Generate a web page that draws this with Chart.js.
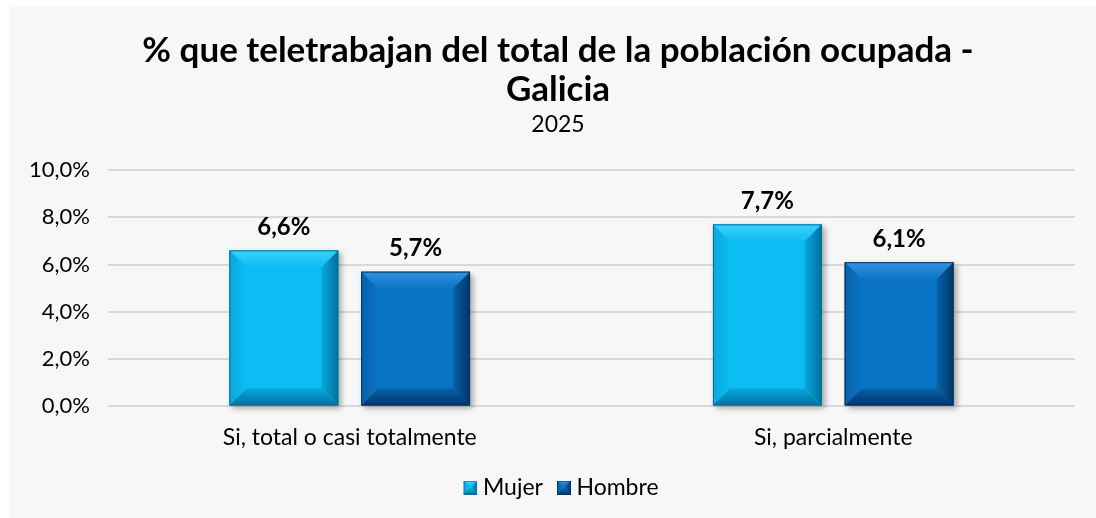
<!DOCTYPE html>
<html>
<head>
<meta charset="utf-8">
<script src="https://cdn.jsdelivr.net/npm/chart.js@4.4.1/dist/chart.umd.min.js"></script>
<style>
  html, body { margin: 0; padding: 0; background: #ffffff; }
  #wrap { position: absolute; left: 10px; top: 7px; width: 1086px; height: 511px; background: #f7f7f7; }
</style>
</head>
<body>
<div id="wrap"><canvas id="chart"></canvas></div>
<script>
const categories = ['Si, total o casi totalmente', 'Si, parcialmente'];
const mujer = [6.6, 7.7];
const hombre = [5.7, 6.1];
const yTicks = [0, 2, 4, 6, 8, 10];

const FONT = 'Lato, "Open Sans", sans-serif';

// face, light edge, mid edge, dark edge
const palette = {
  Mujer: ['#0bbdf3', '#3fd0ff', '#0aa8dc', '#00719c'],
  Hombre: ['#0a74c4', '#3592de', '#0862aa', '#003566']
};

const fmt = v => v.toFixed(1).replace('.', ',') + '%';

function poly(ctx, pts, fill) {
  ctx.beginPath();
  ctx.moveTo(pts[0][0], pts[0][1]);
  for (let i = 1; i < pts.length; i++) ctx.lineTo(pts[i][0], pts[i][1]);
  ctx.closePath();
  ctx.fillStyle = fill;
  ctx.fill();
}

function grad(ctx, x0, y0, x1, y1, c0, c1) {
  const g = ctx.createLinearGradient(x0, y0, x1, y1);
  g.addColorStop(0, c0);
  g.addColorStop(1, c1);
  return g;
}

// soft bevelled face: four edge strips shaded towards the outside
function bevelRect(ctx, l, t, r, b, cols, bev) {
  bev = Math.min(bev, (r - l) / 2, (b - t) / 2);
  const [face, light, mid, dark] = cols;
  poly(ctx, [[l, t], [r, t], [r - bev, t + bev], [l + bev, t + bev]], grad(ctx, 0, t, 0, t + bev, light, face));
  poly(ctx, [[l, t], [l + bev, t + bev], [l + bev, b - bev], [l, b]], grad(ctx, l, 0, l + bev, 0, mid, face));
  poly(ctx, [[r, t], [r, b], [r - bev, b - bev], [r - bev, t + bev]], grad(ctx, r - bev, 0, r, 0, mid, dark));
  poly(ctx, [[l, b], [l + bev, b - bev], [r - bev, b - bev], [r, b]], grad(ctx, 0, b - bev, 0, b, mid, dark));
  ctx.strokeStyle = dark;
  ctx.lineWidth = 1;
  ctx.strokeRect(l + 0.5, t + 0.5, r - l - 1, b - t - 1);
}

// legend marker: small bevelled square on the right side of a wider canvas
function legendIcon(cols) {
  const c = document.createElement('canvas');
  c.width = 26; c.height = 14;
  const ctx = c.getContext('2d');
  ctx.fillStyle = cols[0];
  ctx.fillRect(12, 0, 14, 14);
  bevelRect(ctx, 12, 0, 26, 14, cols, 6);
  return c;
}

const bevelBars = {
  id: 'bevelBars',
  beforeDatasetsDraw(chart) {
    const ctx = chart.ctx;
    chart.data.datasets.forEach((ds, i) => {
      chart.getDatasetMeta(i).data.forEach(bar => {
        const p = bar.getProps(['x', 'y', 'base', 'width'], true);
        ctx.save();
        ctx.shadowColor = 'rgba(0,0,0,0.35)';
        ctx.shadowBlur = 6;
        ctx.shadowOffsetX = 3;
        ctx.shadowOffsetY = 3;
        ctx.fillStyle = '#888';
        ctx.fillRect(p.x - p.width / 2, p.y, p.width, p.base - p.y);
        ctx.restore();
      });
    });
  },
  afterDatasetsDraw(chart) {
    const ctx = chart.ctx;
    chart.data.datasets.forEach((ds, i) => {
      const cols = palette[ds.label];
      chart.getDatasetMeta(i).data.forEach((bar, j) => {
        const p = bar.getProps(['x', 'y', 'base', 'width'], true);
        const l = p.x - p.width / 2, r = p.x + p.width / 2;
        ctx.save();
        bevelRect(ctx, l, p.y, r, p.base, cols, 17);
        ctx.fillStyle = '#000';
        ctx.font = 'bold 24px ' + FONT;
        ctx.textAlign = 'center';
        ctx.textBaseline = 'bottom';
        ctx.fillText(fmt(ds.data[j]), p.x, p.y - 11);
        ctx.restore();
      });
    });
  }
};

new Chart(document.getElementById('chart'), {
  type: 'bar',
  data: {
    labels: categories,
    datasets: [
      { label: 'Mujer', data: mujer, backgroundColor: palette.Mujer[0] },
      { label: 'Hombre', data: hombre, backgroundColor: palette.Hombre[0] }
    ]
  },
  options: {
    responsive: true,
    maintainAspectRatio: false,
    animation: false,
    categoryPercentage: 0.545,
    barPercentage: 0.826,
    layout: { padding: { left: 12, right: 2, top: 8, bottom: 9 } },
    plugins: {
      title: {
        display: true,
        text: ['% que teletrabajan del total de la población ocupada -', 'Galicia'],
        color: '#000',
        font: { family: FONT, size: 35, weight: 'bold', lineHeight: 1.12 },
        padding: { top: 16, bottom: 0 }
      },
      subtitle: {
        display: true,
        text: '2025',
        color: '#000',
        font: { family: FONT, size: 23 },
        padding: { top: 1, bottom: 32 }
      },
      legend: {
        position: 'bottom',
        labels: {
          color: '#000',
          font: { family: FONT, size: 23 },
          usePointStyle: true,
          boxWidth: 14,
          padding: 8,
          generateLabels: chart => chart.data.datasets.map((ds, i) => ({
            text: ds.label,
            pointStyle: legendIcon(palette[ds.label]),
            fillStyle: ds.backgroundColor,
            strokeStyle: ds.backgroundColor,
            lineWidth: 0,
            datasetIndex: i,
            hidden: false
          }))
        }
      },
      tooltip: { enabled: false }
    },
    scales: {
      x: {
        grid: { display: false },
        border: { display: false },
        ticks: { color: '#000', font: { family: FONT, size: 23 }, padding: 9 },
        afterFit: axis => { axis.height += 8; }
      },
      y: {
        min: yTicks[0],
        max: yTicks[yTicks.length - 1],
        afterBuildTicks: axis => { axis.ticks = yTicks.map(v => ({ value: v })); },
        afterFit: axis => { axis.width = 86; },
        border: { display: false },
        grid: { color: '#d9d9d9', lineWidth: 2, drawTicks: false },
        ticks: { color: '#000', font: { family: FONT, size: 22 }, padding: 18, callback: v => fmt(v) }
      },
      // empty strip on the right so the plot ends short of the edge
      yRight: {
        type: 'linear',
        position: 'right',
        grid: { display: false },
        border: { display: false },
        ticks: { display: false },
        afterFit: axis => { axis.width = 19; }
      }
    }
  },
  plugins: [bevelBars]
});
</script>
</body>
</html>
